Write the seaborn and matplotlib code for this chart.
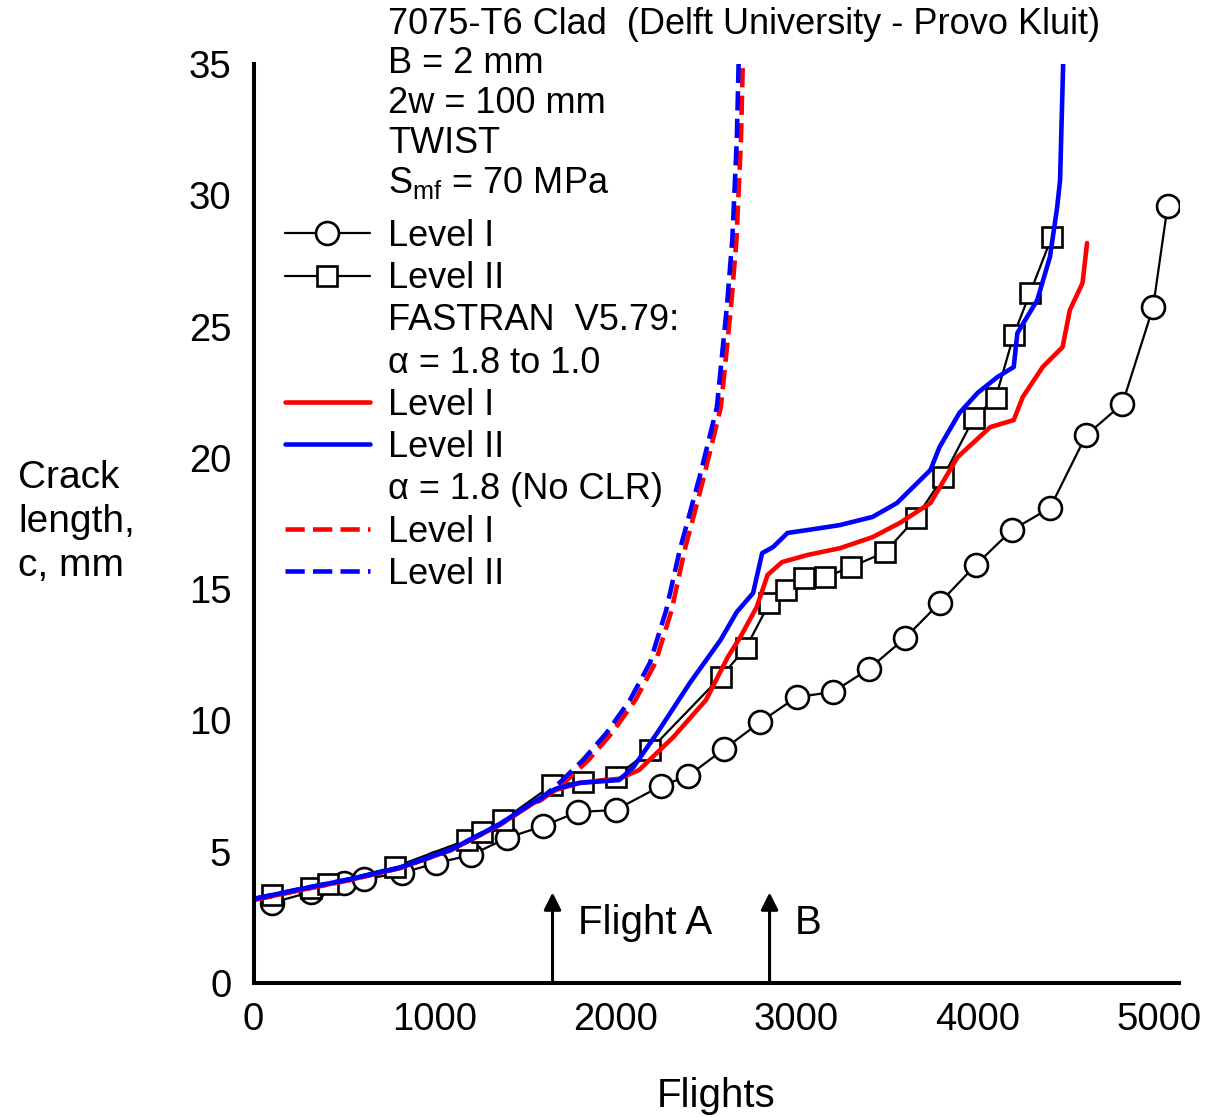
import matplotlib
matplotlib.use("Agg")
import matplotlib.pyplot as plt
from matplotlib.lines import Line2D
import seaborn as sns

# ---------------- data ----------------
lvl1_x = [100, 320, 500, 610, 820, 1010, 1200, 1400, 1600, 1790, 2000, 2250, 2400, 2600,
          2800, 3000, 3200, 3400, 3600, 3790, 3990, 4190, 4400, 4600, 4800, 4970, 5050]
lvl1_y = [3.05, 3.47, 3.81, 3.96, 4.19, 4.57, 4.87, 5.52, 5.98, 6.51, 6.59, 7.5, 7.88, 8.91,
          9.94, 10.89, 11.08, 11.96, 13.14, 14.47, 15.92, 17.25, 18.09, 20.86, 22.05, 25.74, 29.59]

lvl2_x = [100, 320, 410, 780, 1180, 1260, 1380, 1650, 1820, 2000, 2190, 2580, 2720, 2850,
          2940, 3040, 3160, 3300, 3490, 3660, 3810, 3980, 4100, 4200, 4290, 4410]
lvl2_y = [3.35, 3.62, 3.77, 4.42, 5.45, 5.75, 6.21, 7.54, 7.65, 7.84, 8.87, 11.65, 12.76, 14.47,
          14.97, 15.42, 15.46, 15.84, 16.41, 17.71, 19.27, 21.52, 22.28, 24.68, 26.28, 28.41]

fast1_x = [0, 260, 530, 810, 1090, 1360, 1530, 1670, 1800, 2020, 2130, 2320, 2500, 2620, 2690,
           2780, 2840, 2920, 3060, 3240, 3420, 3570, 3740, 3890, 4070, 4200, 4250, 4360, 4470,
           4510, 4580, 4605]
fast1_y = [3.16, 3.54, 3.92, 4.38, 5.06, 6.02, 6.78, 7.35, 7.62, 7.78, 8.11, 9.37, 10.78, 12.41,
           13.18, 14.32, 15.54, 16.03, 16.30, 16.56, 16.98, 17.52, 18.28, 20.03, 21.17, 21.44,
           22.32, 23.46, 24.22, 25.63, 26.66, 28.18]

fast2_x = [0, 260, 530, 810, 1090, 1360, 1530, 1670, 1800, 2020, 2100, 2230, 2410, 2580, 2670,
           2760, 2810, 2870, 2950, 3060, 3240, 3420, 3555, 3740, 3790, 3900, 4000, 4110, 4200,
           4220, 4330, 4400, 4440, 4456, 4473]
fast2_y = [3.2, 3.58, 3.95, 4.4, 5.08, 6.05, 6.82, 7.4, 7.62, 7.73, 8.23, 9.52, 11.42, 13.06,
           14.13, 14.85, 16.37, 16.60, 17.14, 17.25, 17.44, 17.75, 18.28, 19.54, 20.41, 21.71,
           22.47, 23.08, 23.46, 24.75, 26.01, 27.65, 29.55, 30.58, 35.0]

noclr1_x = [0, 260, 530, 810, 1090, 1360, 1530, 1590, 1715, 1850, 1980, 2110, 2220, 2310,
            2382, 2455, 2493, 2582, 2638, 2668, 2693, 2703]
noclr1_y = [3.16, 3.54, 3.92, 4.38, 5.06, 6.02, 6.78, 6.97, 7.62, 8.49, 9.52, 10.78, 12.19,
            14.2, 16.49, 18.39, 19.42, 21.93, 25.74, 28.29, 32.1, 35.0]

noclr2_x = [0, 260, 530, 810, 1090, 1360, 1530, 1580, 1690, 1820, 1950, 2080, 2190, 2280,
            2355, 2430, 2470, 2560, 2615, 2645, 2670, 2680]
noclr2_y = [3.2, 3.58, 3.95, 4.4, 5.08, 6.05, 6.82, 6.97, 7.62, 8.49, 9.52, 10.78, 12.19,
            14.2, 16.49, 18.39, 19.42, 21.93, 25.74, 28.29, 32.1, 35.0]

x_ticks = [0, 1000, 2000, 3000, 4000, 5000]
y_ticks = [0, 5, 10, 15, 20, 25, 30, 35]
flight_marks = [1652, 2851]
flight_labels = ["Flight A", "B"]

header_lines = ["7075-T6 Clad  (Delft University - Provo Kluit)",
                "B = 2 mm", "2w = 100 mm", "TWIST", r"S$_{\mathrm{mf}}$ = 70 MPa"]

# ---------------- style ----------------
sns.set_theme(style="white")
plt.rcParams["font.family"] = ["Liberation Sans", "DejaVu Sans"]
plt.rcParams["mathtext.fontset"] = "custom"
plt.rcParams["mathtext.rm"] = "Liberation Sans"
plt.rcParams["mathtext.it"] = "Liberation Sans:italic"
plt.rcParams["text.color"] = "black"
plt.rcParams["axes.labelcolor"] = "black"
plt.rcParams["xtick.color"] = "black"
plt.rcParams["ytick.color"] = "black"

W, H = 1208, 1117
fig = plt.figure(figsize=(W / 100, H / 100), dpi=100)
ax = fig.add_axes([253.5 / W, 1 - 983 / H, (1179 - 253.5) / W, (983 - 64) / H])

RED, BLUE = "#ff0000", "#0000ff"
DASH = (0, (4.2, 1.8))
LW_C = 3.3
LW_K = 1.6

sns.lineplot(x=lvl1_x, y=lvl1_y, ax=ax, sort=False, estimator=None, color="black",
             lw=LW_K, marker="o", markersize=16.5, markerfacecolor="white",
             markeredgecolor="black", markeredgewidth=1.9, legend=False)
sns.lineplot(x=lvl2_x, y=lvl2_y, ax=ax, sort=False, estimator=None, color="black",
             lw=LW_K, marker="s", markersize=14, markerfacecolor="white",
             markeredgecolor="black", markeredgewidth=1.9, legend=False)
sns.lineplot(x=fast1_x, y=fast1_y, ax=ax, sort=False, estimator=None, color=RED,
             lw=LW_C, legend=False)
sns.lineplot(x=noclr1_x, y=noclr1_y, ax=ax, sort=False, estimator=None, color=RED,
             lw=LW_C, linestyle=DASH, legend=False)
sns.lineplot(x=fast2_x, y=fast2_y, ax=ax, sort=False, estimator=None, color=BLUE,
             lw=LW_C, legend=False)
sns.lineplot(x=noclr2_x, y=noclr2_y, ax=ax, sort=False, estimator=None, color=BLUE,
             lw=LW_C, linestyle=DASH, legend=False)

ax.set_xlim(0, 5113)
ax.set_ylim(0, 35)
ax.set_xticks(x_ticks)
ax.set_yticks(y_ticks)
ax.tick_params(axis="both", direction="in", length=16, width=1.9, labelsize=27.5,
               pad=14, color="black", labelcolor="black")
ax.tick_params(axis="y", pad=16)
for side in ["top", "right"]:
    ax.spines[side].set_visible(False)
for side in ["left", "bottom"]:
    ax.spines[side].set_linewidth(2.9)
    ax.spines[side].set_color("black")
ax.grid(False)

ax.set_xlabel("Flights", fontsize=29, labelpad=28)
ax.set_ylabel("")
fig.text(18 / W, 1 - 522 / H, "Crack\nlength,\nc, mm", fontsize=28, ha="left",
         va="center", linespacing=1.3)

# arrows
for xm, lab in zip(flight_marks, flight_labels):
    ax.annotate("", xy=(xm, 3.45), xytext=(xm, 0),
                arrowprops=dict(arrowstyle="-|>", lw=2.2, color="black",
                                mutation_scale=26, shrinkA=0, shrinkB=0))
    ax.text(xm + 140, 2.3, lab, fontsize=29, ha="left", va="center")

# header text
for i, line in enumerate(header_lines):
    fig.text(388 / W, 1 - (24 + 39.8 * i) / H, line, fontsize=26, ha="left", va="center")

# legend
blank = Line2D([], [], color="none")
handles = [
    Line2D([], [], color="black", lw=LW_K, marker="o", markersize=16.5,
           markerfacecolor="white", markeredgewidth=1.9),
    Line2D([], [], color="black", lw=LW_K, marker="s", markersize=14,
           markerfacecolor="white", markeredgewidth=1.9),
    blank, blank,
    Line2D([], [], color=RED, lw=LW_C),
    Line2D([], [], color=BLUE, lw=LW_C),
    blank,
    Line2D([], [], color=RED, lw=LW_C, linestyle=DASH),
    Line2D([], [], color=BLUE, lw=LW_C, linestyle=DASH),
]
labels = ["Level I", "Level II", "FASTRAN  V5.79:", "α = 1.8 to 1.0", "Level I", "Level II",
          "α = 1.8 (No CLR)", "Level I", "Level II"]
leg = fig.legend(handles, labels, loc="upper left",
                 bbox_to_anchor=(285 / W, 1 - 219 / H), bbox_transform=fig.transFigure,
                 frameon=False, fontsize=26, handlelength=2.35, handletextpad=0.5,
                 borderpad=0, borderaxespad=0, labelspacing=0.2, handleheight=0.7)

fig.savefig("out.png", dpi=100)
